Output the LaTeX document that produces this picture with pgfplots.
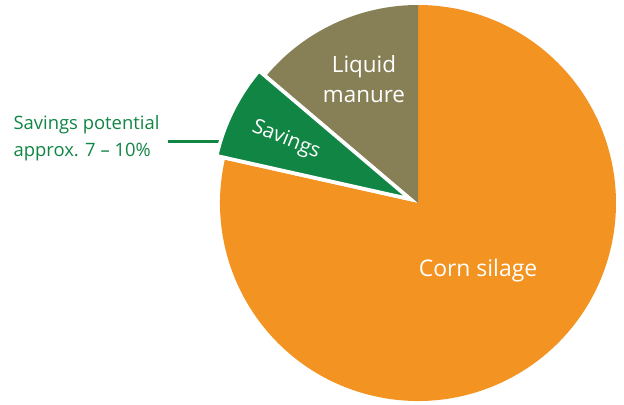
\documentclass[border=0pt]{standalone}
\usepackage{pgfplots}
\pgfplotsset{compat=1.18}
\usepackage{pgfplotstable}
\usepackage{fontspec}
\setmainfont{Open Sans}

\definecolor{cornorange}{RGB}{243,148,34}
\definecolor{manureolive}{RGB}{135,128,87}
\definecolor{savegreen}{RGB}{17,133,68}

% shares of the pie, in percent
\pgfplotstableread{
part value
manure 13.8
savings 7.7
corn 78.5
}\piedata

\pgfplotstablegetelem{0}{value}\of\piedata \let\vmanure\pgfplotsretval
\pgfplotstablegetelem{1}{value}\of\piedata \let\vsavings\pgfplotsretval
\pgfplotstablegetelem{2}{value}\of\piedata \let\vcorn\pgfplotsretval

\pgfmathsetmacro{\aA}{90}
\pgfmathsetmacro{\aB}{\aA+3.6*\vmanure}
\pgfmathsetmacro{\aC}{\aB+3.6*\vsavings}
\pgfmathsetmacro{\aD}{\aC+3.6*\vcorn}
\pgfmathsetmacro{\aMid}{(\aB+\aC)/2}

\begin{document}
\begin{tikzpicture}
\begin{axis}[
    width=624bp, height=405bp,
    scale only axis,
    xmin=0, xmax=624, ymin=0, ymax=405,
    hide axis,
    clip=false,
]
% leader line of the note
\draw[savegreen, line width=3bp] (axis cs:168,263) -- (axis cs:234,263);
% corn silage
\fill[cornorange] (axis cs:418,202) -- ++(\aC:198bp)
    arc[start angle=\aC, end angle=\aD, radius=198bp] -- cycle;
% liquid manure
\fill[manureolive] (axis cs:418,202) -- ++(\aA:198bp)
    arc[start angle=\aA, end angle=\aB, radius=198bp] -- cycle;
% savings, pulled out
\filldraw[savegreen, draw=white, line width=3.5bp, line join=miter]
    ([shift={(\aMid:9bp)}]axis cs:418,202) -- ++(\aB:198bp)
    arc[start angle=\aB, end angle=\aC, radius=198bp] -- cycle;

\node[white, font=\fontsize{22.5}{30}\selectfont, align=center]
    at (axis cs:364,326) {Liquid\\manure};
\node[white, font=\fontsize{23}{26}\selectfont]
    at (axis cs:478,134) {Corn silage};
\node[white, font=\fontsize{20.5}{24}\selectfont, rotate=-22]
    at (axis cs:286,265) {Savings};
\node[savegreen, font=\fontsize{18.5}{27}\selectfont, align=left, anchor=west]
    at (axis cs:10,267) {Savings potential\\approx. 7 -- 10\%};
\end{axis}
\pgfresetboundingbox
\path[use as bounding box] (0,0) rectangle (624bp,405bp);
\end{tikzpicture}
\end{document}
